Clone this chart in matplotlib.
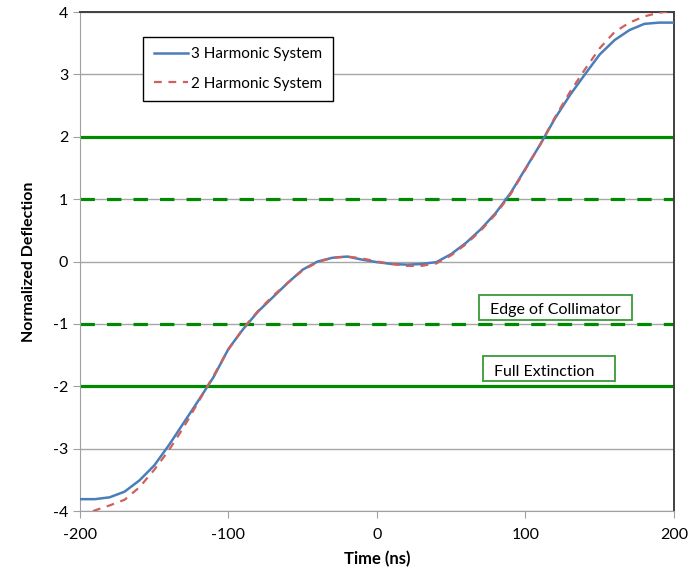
import numpy as np
import matplotlib
matplotlib.use("Agg")
import matplotlib.pyplot as plt
from matplotlib.patches import Rectangle

plt.rcParams['font.family'] = ['Lato', 'DejaVu Sans']
plt.rcParams['axes.unicode_minus'] = False

# data
t_ns = [-200, -190, -180, -170, -160, -150, -140, -130, -120, -110, -100,
        -90, -80, -70, -60, -50, -40, -30, -20, -10, 0,
        10, 20, 30, 40, 50, 60, 70, 80, 90, 100,
        110, 120, 130, 140, 150, 160, 170, 180, 190, 200]
harm3 = [-3.81, -3.81, -3.78, -3.69, -3.51, -3.27, -2.94, -2.58, -2.22, -1.85, -1.40,
         -1.08, -0.80, -0.57, -0.34, -0.13, 0.00, 0.06, 0.08, 0.03, -0.01,
         -0.04, -0.05, -0.04, -0.01, 0.12, 0.30, 0.52, 0.78, 1.10, 1.49,
         1.88, 2.30, 2.67, 3.00, 3.32, 3.55, 3.71, 3.81, 3.83, 3.83]
harm2 = [-4.10, -3.99, -3.91, -3.82, -3.62, -3.34, -3.02, -2.65, -2.24, -1.83, -1.41,
         -1.07, -0.79, -0.55, -0.34, -0.14, -0.01, 0.06, 0.08, 0.05, 0.00,
         -0.04, -0.07, -0.07, -0.03, 0.10, 0.28, 0.50, 0.76, 1.08, 1.48,
         1.88, 2.32, 2.72, 3.08, 3.42, 3.68, 3.83, 3.93, 3.99, 4.02]
solid_levels = [2, -2]
dashed_levels = [1, -1]
x_ticks = [-200, -100, 0, 100, 200]
y_ticks = [-4, -3, -2, -1, 0, 1, 2, 3, 4]

fig = plt.figure(figsize=(6.96, 5.72), dpi=100)
ax = fig.add_axes([0.1149, 0.1066, 0.8535, 0.8724])

ax.set_xlim(-200, 200)
ax.set_ylim(-4, 4)
ax.set_yticks(y_ticks)
ax.set_xticks(x_ticks)
ax.yaxis.grid(True, color='#a6a6a6', linewidth=1.0)
ax.set_axisbelow(True)

# limit lines
for lv in solid_levels:
    ax.axhline(lv, color='#008a00', linewidth=2.3, zorder=2)
for lv in dashed_levels:
    ax.axhline(lv, color='#008a00', linewidth=2.3, dashes=(4.5, 3.8), zorder=2)

ax.plot(t_ns, harm3, color='#4a7ebb', linewidth=1.8, label='3 Harmonic System', zorder=3)
ax.plot(t_ns, harm2, color='#d0605c', linewidth=1.6, dashes=(3.5, 3),
        label='2 Harmonic System', zorder=4)

leg = ax.legend(loc='center', bbox_to_anchor=(0.266, 0.886), fontsize=11,
                frameon=True, fancybox=False, framealpha=1, edgecolor='black',
                handlelength=2.2, labelspacing=1.0, borderpad=0.7, handletextpad=0.2)
leg.get_frame().set_linewidth(1.0)

# annotation boxes
ax.add_patch(Rectangle((68.7, -0.945), 103, 0.415, facecolor='white',
                       edgecolor='#3a9a3a', linewidth=1.3, zorder=5))
ax.text(120.2, -0.77, 'Edge of Collimator', ha='center', va='center',
        fontsize=11.5, zorder=6)
ax.add_patch(Rectangle((71.4, -1.92), 88.9, 0.41, facecolor='white',
                       edgecolor='#3a9a3a', linewidth=1.3, zorder=5))
ax.text(112.5, -1.77, 'Full Extinction', ha='center', va='center',
        fontsize=11.5, zorder=6)

for s in ['left', 'bottom']:
    ax.spines[s].set_color('#a0a0a0')
for s in ['top', 'right']:
    ax.spines[s].set_color('#404040')
    ax.spines[s].set_linewidth(1.4)
ax.tick_params(axis='both', colors='#a0a0a0', labelcolor='black',
               labelsize=11.5, length=5, direction='out')
ax.tick_params(axis='x', pad=7)

ax.set_xlabel('Time (ns)', fontsize=12, fontweight='bold', labelpad=7)
ax.set_ylabel('Normalized Deflection', fontsize=11.5, fontweight='bold', labelpad=12)

fig.savefig('out.png', dpi=100)
